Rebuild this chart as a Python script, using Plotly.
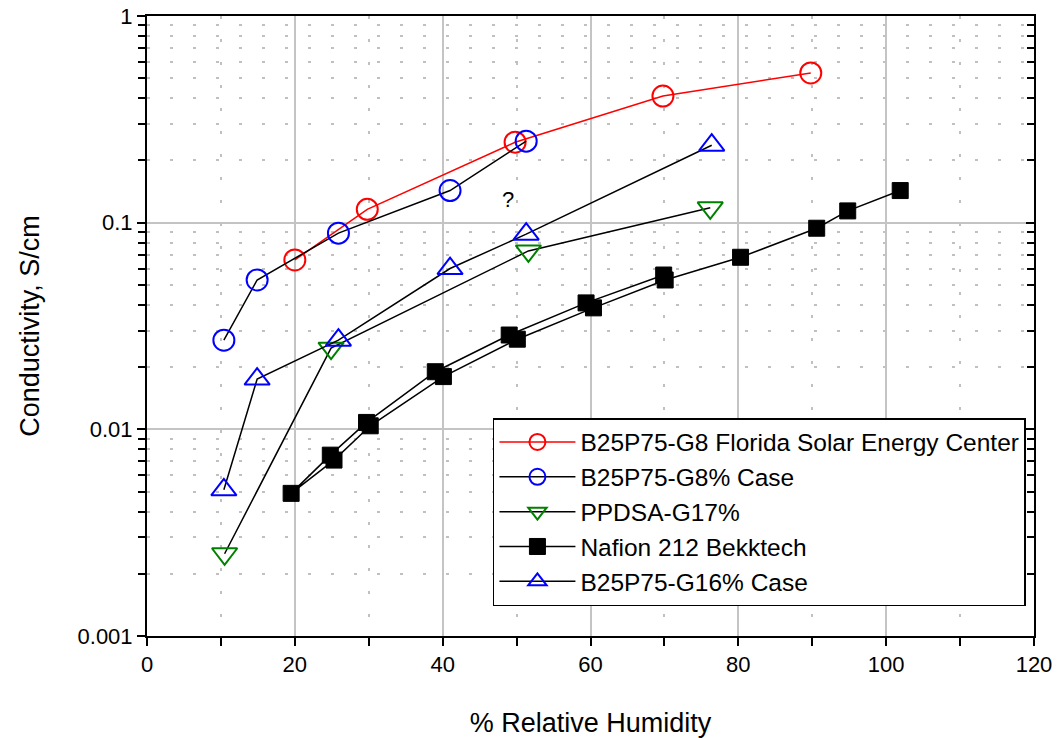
import math
import plotly.graph_objects as go

# ---------------- data ----------------
fsec_rh = [20, 29.8, 49.8, 69.8, 89.8]
fsec_sigma = [0.066, 0.116, 0.245, 0.41, 0.53]

g8_rh = [10.4, 14.9, 25.9, 41.0, 51.3]
g8_sigma = [0.027, 0.0528, 0.089, 0.143, 0.248]

ppdsa_rh = [10.5, 24.9, 51.6, 76.2]
ppdsa_sigma = [0.0025, 0.0247, 0.073, 0.118]

# Nafion 212 (Bekktech): two sweeps drawn as one connected curve
nafion_a_rh = [69.9, 59.4, 49.0, 39.0, 29.7, 24.8, 19.5]
nafion_a_sigma = [0.0558, 0.0409, 0.0286, 0.0190, 0.0108, 0.0075, 0.0049]
nafion_b_rh = [25.3, 30.2, 40.1, 50.1, 60.4, 70.1, 80.3, 90.6, 94.8, 101.9]
nafion_b_sigma = [0.0071, 0.0104, 0.0180, 0.0273, 0.0387, 0.0528, 0.068, 0.094, 0.114, 0.143]

g16_rh = [10.4, 14.9, 25.9, 41.0, 51.3, 76.4]
g16_sigma = [0.0051, 0.0175, 0.027, 0.060, 0.088, 0.237]

names = [
    "B25P75-G8 Florida Solar Energy Center",
    "B25P75-G8% Case",
    "PPDSA-G17%",
    "Nafion 212 Bekktech",
    "B25P75-G16% Case",
]

x_ticks = [0, 20, 40, 60, 80, 100, 120]
y_ticks = [0.001, 0.01, 0.1, 1]
y_ticktext = ["0.001", "0.01", "0.1", "1"]

note_rh, note_sigma, note_text = 48.9, 0.129, "?"

# ---------------- figure ----------------
FONT = "Liberation Sans, Arial, sans-serif"
fig = go.Figure()

fig.add_trace(go.Scatter(
    x=fsec_rh, y=fsec_sigma, name=names[0], mode="lines+markers",
    line=dict(color="#ff0000", width=1.5),
    marker=dict(symbol="circle-open", size=21, color="#ff0000", line=dict(width=2, color="#ff0000")),
))
fig.add_trace(go.Scatter(
    x=g8_rh, y=g8_sigma, name=names[1], mode="lines+markers",
    line=dict(color="black", width=1.5),
    marker=dict(symbol="circle-open", size=21, color="#0000ff", line=dict(width=2, color="#0000ff")),
))
fig.add_trace(go.Scatter(
    x=ppdsa_rh, y=ppdsa_sigma, name=names[2], mode="lines+markers",
    line=dict(color="black", width=1.5),
    marker=dict(symbol="triangle-down-open", size=22, color="#008000", line=dict(width=2, color="#008000")),
))
fig.add_trace(go.Scatter(
    x=nafion_a_rh + nafion_b_rh, y=nafion_a_sigma + nafion_b_sigma, name=names[3], mode="lines+markers",
    line=dict(color="black", width=1.5),
    marker=dict(symbol="square", size=16, color="black", line=dict(width=1, color="black")),
))
fig.add_trace(go.Scatter(
    x=g16_rh, y=g16_sigma, name=names[4], mode="lines+markers",
    line=dict(color="black", width=1.5),
    marker=dict(symbol="triangle-up-open", size=22, color="#0000ff", line=dict(width=2, color="#0000ff")),
))
# helper trace to realise the right-hand (inside-tick) axis
fig.add_trace(go.Scatter(x=[None], y=[None], yaxis="y2", showlegend=False, hoverinfo="skip"))

minor_y = [k * 10 ** e for e in (-3, -2, -1) for k in range(2, 10)]
GRID = "#c4c4c4"
DOT = "#c0c0c0"

fig.update_layout(
    width=1057, height=738,
    margin=dict(l=147, r=23, t=16, b=102, autoexpand=False),
    paper_bgcolor="white", plot_bgcolor="white",
    font=dict(family=FONT, color="black", size=22),
    showlegend=True,
    legend=dict(
        x=0.39, y=0.3516, xanchor="left", yanchor="top",
        bgcolor="white", bordercolor="black", borderwidth=1.5,
        font=dict(family=FONT, size=24.5, color="black"),
        tracegroupgap=0, itemwidth=76,
    ),
    xaxis=dict(
        range=[0, 120], tickvals=x_ticks, ticks="outside", ticklen=8, tickwidth=1.5,
        tickcolor="black", showline=True, linecolor="black", linewidth=2, mirror=True,
        showgrid=True, gridcolor=GRID, gridwidth=1.5, zeroline=False, automargin=False,
        tickfont=dict(size=22),
        title=dict(text="% Relative Humidity", font=dict(size=27), standoff=38),
        minor=dict(dtick=10, tick0=0, ticks="outside", ticklen=8, tickwidth=1.5, tickcolor="black",
                   showgrid=True, gridcolor=DOT, gridwidth=2, griddash="3px,20px"),
    ),
    yaxis=dict(
        type="log", range=[-3, 0], tickvals=y_ticks, ticktext=y_ticktext,
        ticks="outside", ticklen=8, tickwidth=1.5, tickcolor="black",
        showline=True, linecolor="black", linewidth=2, mirror=True,
        showgrid=True, gridcolor=GRID, gridwidth=1.5, zeroline=False, automargin=False,
        tickfont=dict(size=22),
        title=dict(text="Conductivity, S/cm", font=dict(size=27), standoff=30),
        minor=dict(tickvals=minor_y, ticks="outside", ticklen=7, tickwidth=1.5, tickcolor="black",
                   showgrid=True, gridcolor=DOT, gridwidth=2, griddash="3px,20px"),
    ),
    yaxis2=dict(
        type="log", range=[-3, 0], overlaying="y", side="right", tickvals=y_ticks,
        ticks="inside", ticklen=8, tickwidth=1.5, tickcolor="black", showticklabels=False,
        showgrid=False, zeroline=False, showline=False, automargin=False,
        minor=dict(tickvals=minor_y, ticks="inside", ticklen=7, tickwidth=1.5, tickcolor="black",
                   showgrid=False),
    ),
    annotations=[dict(x=note_rh, y=math.log10(note_sigma), xref="x", yref="y", text=note_text,
                      showarrow=False, font=dict(size=22, family=FONT, color="black"))],
)

fig.write_html("out.html")
